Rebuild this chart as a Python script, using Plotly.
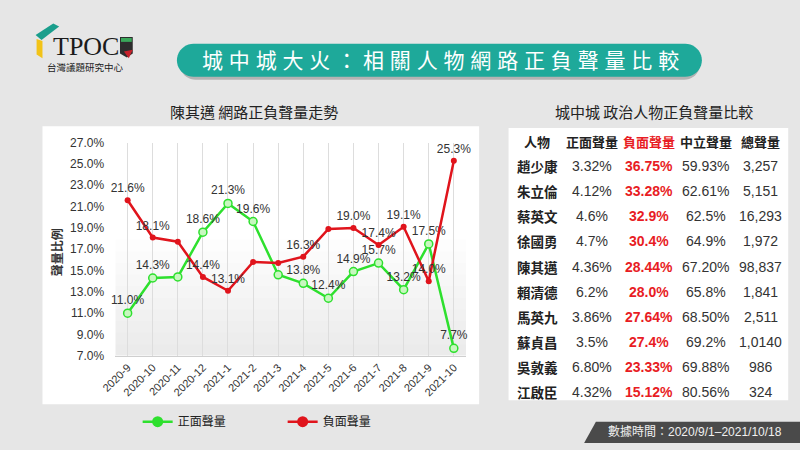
import plotly.graph_objects as go
import math

# ---------------- data ----------------
months = ["2020-9", "2020-10", "2020-11", "2020-12", "2021-1", "2021-2", "2021-3",
          "2021-4", "2021-5", "2021-6", "2021-7", "2021-8", "2021-9", "2021-10"]
positive = [11.0, 14.3, 14.4, 18.6, 21.3, 19.6, 14.6, 13.8, 12.4, 14.9, 15.7, 13.2, 17.5, 7.7]
negative = [21.6, 18.1, 17.7, 14.4, 13.1, 15.8, 15.7, 16.3, 18.9, 19.0, 17.4, 19.1, 14.0, 25.3]
pos_labeled = [True, True, False, True, True, True, False, True, True, True, True, True, True, True]
neg_labeled = [True, True, False, True, True, False, False, True, False, True, True, True, True, True]
y_ticks = [7, 9, 11, 13, 15, 17, 19, 21, 23, 25, 27]

table_header = ["人物", "正面聲量", "負面聲量", "中立聲量", "總聲量"]
names = ["趙少康", "朱立倫", "蔡英文", "徐國勇", "陳其邁", "賴清德", "馬英九", "蘇貞昌", "吳敦義", "江啟臣"]
pos_share = ["3.32%", "4.12%", "4.6%", "4.7%", "4.36%", "6.2%", "3.86%", "3.5%", "6.80%", "4.32%"]
neg_share = ["36.75%", "33.28%", "32.9%", "30.4%", "28.44%", "28.0%", "27.64%", "27.4%", "23.33%", "15.12%"]
neu_share = ["59.93%", "62.61%", "62.5%", "64.9%", "67.20%", "65.8%", "68.50%", "69.2%", "69.88%", "80.56%"]
total_vol = ["3,257", "5,151", "16,293", "1,972", "98,837", "1,841", "2,511", "1,0140", "986", "324"]

title_text = "城中城大火：相關人物網路正負聲量比較"
left_title = "陳其邁 網路正負聲量走勢"
right_title = "城中城 政治人物正負聲量比較"
footer_text = "數據時間：2020/9/1–2021/10/18"

W, H = 800, 450
GREEN = "#2ee02e"
RED = "#e0141c"
TEAL = "#1ea99a"
FONT = "Liberation Sans, Noto Sans CJK TC, sans-serif"
CJK = "Noto Sans CJK TC, sans-serif"


def px(x):
    return x / W


def py(y):
    return 1 - y / H


def poly_path(pts):
    return "M " + " L ".join(f"{px(x):.5f},{py(y):.5f}" for x, y in pts) + " Z"


def rounded_rect(x0, y0, x1, y1, r, n=10):
    pts = []
    corners = [(x1 - r, y0 + r, -90), (x1 - r, y1 - r, 0), (x0 + r, y1 - r, 90), (x0 + r, y0 + r, 180)]
    for cx, cy, a0 in corners:
        for i in range(n + 1):
            a = math.radians(a0 + 90 * i / n)
            pts.append((cx + r * math.cos(a), cy + r * math.sin(a)))
    return poly_path(pts)


def rect(x0, y0, x1, y1, color, opacity=1.0):
    return dict(type="rect", xref="paper", yref="paper", x0=px(x0), x1=px(x1),
                y0=py(y1), y1=py(y0), fillcolor=color, opacity=opacity,
                line=dict(width=0), layer="below")


def path(p, color, opacity=1.0, layer="below"):
    return dict(type="path", xref="paper", yref="paper", path=p, fillcolor=color,
                opacity=opacity, line=dict(width=0), layer=layer)


def label(x, y, text, size=13, color="#222", family=FONT, xanchor="center", **kw):
    return dict(x=px(x), y=py(y), xref="paper", yref="paper", text=text, showarrow=False,
                font=dict(size=size, color=color, family=family), xanchor=xanchor,
                yanchor="middle", **kw)


fig = go.Figure()

fig.add_trace(go.Scatter(
    x=months, y=positive, mode="lines+markers+text", name="正面聲量", showlegend=False,
    line=dict(color=GREEN, width=2.5),
    marker=dict(size=8, color="#c8f7c0", line=dict(color=GREEN, width=1.5)),
    text=[f"{v:.1f}%" if s else "" for v, s in zip(positive, pos_labeled)],
    textposition="top center", textfont=dict(size=12, color="#333", family=FONT),
    cliponaxis=False, hoverinfo="skip"))
fig.add_trace(go.Scatter(
    x=months, y=negative, mode="lines+markers+text", name="負面聲量", showlegend=False,
    line=dict(color=RED, width=2.5),
    marker=dict(size=6, color=RED),
    text=[f"{v:.1f}%" if s else "" for v, s in zip(negative, neg_labeled)],
    textposition="top center", textfont=dict(size=12, color="#333", family=FONT),
    cliponaxis=False, hoverinfo="skip"))
# legend entries
fig.add_trace(go.Scatter(x=[None], y=[None], mode="lines+markers", name="正面聲量",
                         line=dict(color=GREEN, width=2.5), marker=dict(size=11, color=GREEN)))
fig.add_trace(go.Scatter(x=[None], y=[None], mode="lines+markers", name="負面聲量",
                         line=dict(color=RED, width=2.5), marker=dict(size=11, color=RED)))

shapes = []
# panels
shapes.append(rect(28, 123, 473, 410, "white"))
shapes.append(rect(503, 125, 788, 406, "white"))
# gradient in plot area
for i in range(10):
    shapes.append(rect(102, 360 - 120 * (i + 1) / 10, 460, 360, "#000000", 0.006))
# title pill + shadow
shapes.append(path(rounded_rect(168, 42, 698, 75, 16), "#000000", 0.22))
shapes.append(path(rounded_rect(165, 38, 700, 72, 17), TEAL))
# footer
shapes.append(path(poly_path([(592, 428), (800, 428), (800, 450), (580, 450)]), "#4a4a4a"))
# logo
shapes.append(path(poly_path([(21, 29), (39, 17), (45, 20), (27, 34)]), "#1a9e8c", layer="above"))
shapes.append(path(poly_path([(22, 33), (28, 35), (28, 53), (22, 49)]), "#f2c318", layer="above"))
shapes.append(path(poly_path([(107, 31), (120, 31), (120, 48), (114, 52), (107, 48)]), "#2d2d2d", layer="above"))
shapes.append(path(poly_path([(108, 32), (119, 32), (119, 36), (108, 36)]), "#3aa85a", layer="above"))
shapes.append(path(poly_path([(111, 46), (120, 44), (116, 53)]), "#c8202a", layer="above"))

ann = []
ann.append(label(72, 41, "TPOC", size=26, color="#1b1b1b", family="Liberation Serif, DejaVu Serif, serif"))
ann.append(label(72, 62, "台灣議題研究中心", size=9.5, color="#222", family=CJK))
ann.append(label(434, 55, " ".join(title_text), size=21, color="white"))
ann.append(label(244, 108, left_title, size=15, color="#222", family=CJK))
ann.append(label(651, 108, right_title, size=15, color="#222", family=CJK))
ann.append(label(42, 253, "<b>聲量比例</b>", size=12, color="#333", family=CJK, textangle=-90))
ann.append(label(784, 439, footer_text, size=12, color="#f0f0f0", xanchor="right"))

# table
col_x = [532, 588, 646, 704, 760]
hdr_colors = ["#222", "#222", "#e81c24", "#222", "#222"]
for cx, h, c in zip(col_x, table_header, hdr_colors):
    ann.append(label(cx, 139, f"<b>{h}</b>", size=13, color=c, family=CJK))
columns = [names, pos_share, neg_share, neu_share, total_vol]
for j, col in enumerate(columns):
    for i, v in enumerate(col):
        yy = 164 + 25.97 * i
        if j == 0:
            ann.append(label(col_x[j], yy, f"<b>{v}</b>", size=13.5, color="#222", family=CJK))
        elif j == 2:
            ann.append(label(col_x[j], yy, f"<b>{v}</b>", size=14, color="#e81c24"))
        else:
            ann.append(label(col_x[j], yy, v, size=14, color="#333"))

fig.update_layout(
    width=W, height=H, margin=dict(l=0, r=0, t=0, b=0),
    paper_bgcolor="#e6e6e6", plot_bgcolor="rgba(0,0,0,0)",
    font=dict(family=FONT, color="#333"),
    shapes=shapes, annotations=ann,
    xaxis=dict(domain=[px(102), px(460)], type="category", categoryorder="array",
               categoryarray=months, range=[-0.5, len(months) - 0.5],
               tickangle=-45, tickfont=dict(size=11, color="#333"),
               showgrid=True, gridcolor="#dddddd", gridwidth=1,
               showline=True, linecolor="#cfcfcf", ticks="", zeroline=False, fixedrange=True),
    yaxis=dict(domain=[py(360), py(140)], range=[7, 27], tickvals=y_ticks,
               ticktext=[f"{v:.1f}%" for v in y_ticks], tickfont=dict(size=12, color="#333"),
               showgrid=False, zeroline=False, showline=False, ticks="", ticklabelstandoff=10,
               fixedrange=True),
    legend=dict(orientation="h", x=px(125), y=py(428), xanchor="left", yanchor="middle",
                font=dict(size=12, color="#222", family=CJK), bgcolor="rgba(0,0,0,0)",
                entrywidth=100, entrywidthmode="pixels"),
)

fig.write_html("out.html", config={"displayModeBar": False},
               post_script="document.body.style.margin='0';document.body.style.overflow='hidden';")
